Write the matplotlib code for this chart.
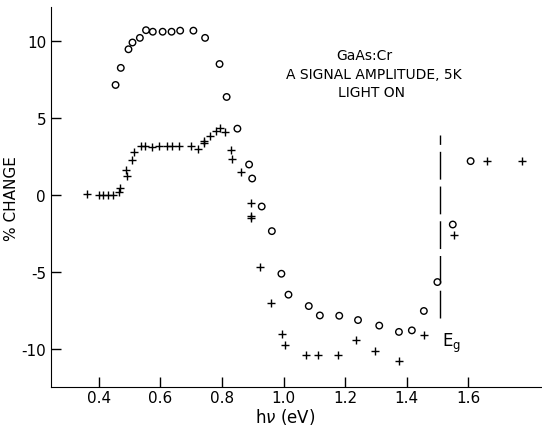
import matplotlib
matplotlib.use("Agg")
import matplotlib.pyplot as plt

plt.rcParams['axes.unicode_minus'] = False
plt.rcParams['font.family'] = ['DejaVu Sans']

# circles (o)
circle_x = [0.454, 0.471, 0.496, 0.509, 0.533, 0.553, 0.575, 0.607, 0.636, 0.664,
            0.707, 0.745, 0.792, 0.815, 0.850, 0.888, 0.898, 0.929, 0.962, 0.993,
            1.016, 1.082, 1.118, 1.181, 1.242, 1.311, 1.375, 1.417, 1.456, 1.500,
            1.550, 1.608]
circle_y = [7.14, 8.25, 9.46, 9.9, 10.2, 10.7, 10.6, 10.6, 10.6, 10.67,
            10.67, 10.2, 8.5, 6.36, 4.3, 1.97, 1.06, -0.76, -2.36, -5.13,
            -6.49, -7.23, -7.84, -7.86, -8.14, -8.5, -8.91, -8.81, -7.55, -5.67,
            -1.93, 2.19]

# crosses (+)
plus_x = [0.362, 0.399, 0.414, 0.430, 0.446, 0.466, 0.468, 0.488, 0.490, 0.508,
          0.513, 0.536, 0.549, 0.573, 0.595, 0.620, 0.638, 0.660, 0.699, 0.722,
          0.740, 0.742, 0.762, 0.781, 0.793, 0.809, 0.830, 0.833, 0.861, 0.894,
          0.894, 0.894, 0.925, 0.958, 0.995, 1.005, 1.072, 1.113, 1.176, 1.234,
          1.298, 1.375, 1.457, 1.553, 1.662, 1.775]
plus_y = [0.06, 0.0, 0.0, 0.0, 0.02, 0.2, 0.45, 1.64, 1.25, 2.25,
          2.8, 3.2, 3.2, 3.12, 3.16, 3.16, 3.16, 3.16, 3.16, 2.99,
          3.38, 3.52, 3.83, 4.13, 4.35, 4.07, 2.92, 2.36, 1.49, -0.5,
          -1.38, -1.51, -4.7, -7.06, -9.03, -9.78, -10.39, -10.39, -10.39, -9.44,
          -10.17, -10.83, -9.09, -2.6, 2.21, 2.21]

eg_x = 1.51
eg_ymin, eg_ymax = -8.0, 3.9

fig = plt.figure(figsize=(5.42, 4.27), dpi=100)
ax = fig.add_axes([0.094, 0.091, 0.906, 0.89])

ax.scatter(circle_x, circle_y, s=22, facecolors='none', edgecolors='black', linewidths=1.0)
ax.scatter(plus_x, plus_y, s=36, marker='+', color='black', linewidths=1.0)

# band gap marker
ax.plot([eg_x, eg_x], [eg_ymin, eg_ymax], color='black', lw=1.0,
        linestyle=(0, (20, 5)))
ax.text(eg_x + 0.005, -9.6, r'E$_\mathregular{g}$', fontsize=12, ha='left', va='center')

ax.text(1.264, 9.09, 'GaAs:Cr', fontsize=10, ha='center', va='center')
ax.text(1.293, 7.86, 'A SIGNAL AMPLITUDE, 5K', fontsize=10, ha='center', va='center')
ax.text(1.286, 6.69, 'LIGHT ON', fontsize=10, ha='center', va='center')

ax.set_xlim(0.244, 1.84)
ax.set_ylim(-12.5, 12.2)
ax.set_xticks([0.4, 0.6, 0.8, 1.0, 1.2, 1.4, 1.6])
ax.set_xticklabels(['0.4', '0.6', '0.8', '1.0', '1.2', '1.4', '1.6'])
ax.set_yticks([-10, -5, 0, 5, 10])
ax.tick_params(direction='in', length=7, width=1.0, labelsize=11)
ax.tick_params(axis='x', pad=2)
ax.spines['top'].set_visible(False)
ax.spines['right'].set_visible(False)

ax.set_xlabel(r'h$\nu$ (eV)', fontsize=12)
ax.xaxis.set_label_coords(0.477, -0.05)
ax.set_ylabel('% CHANGE', fontsize=11, labelpad=2)

fig.savefig('out.png', dpi=100)
